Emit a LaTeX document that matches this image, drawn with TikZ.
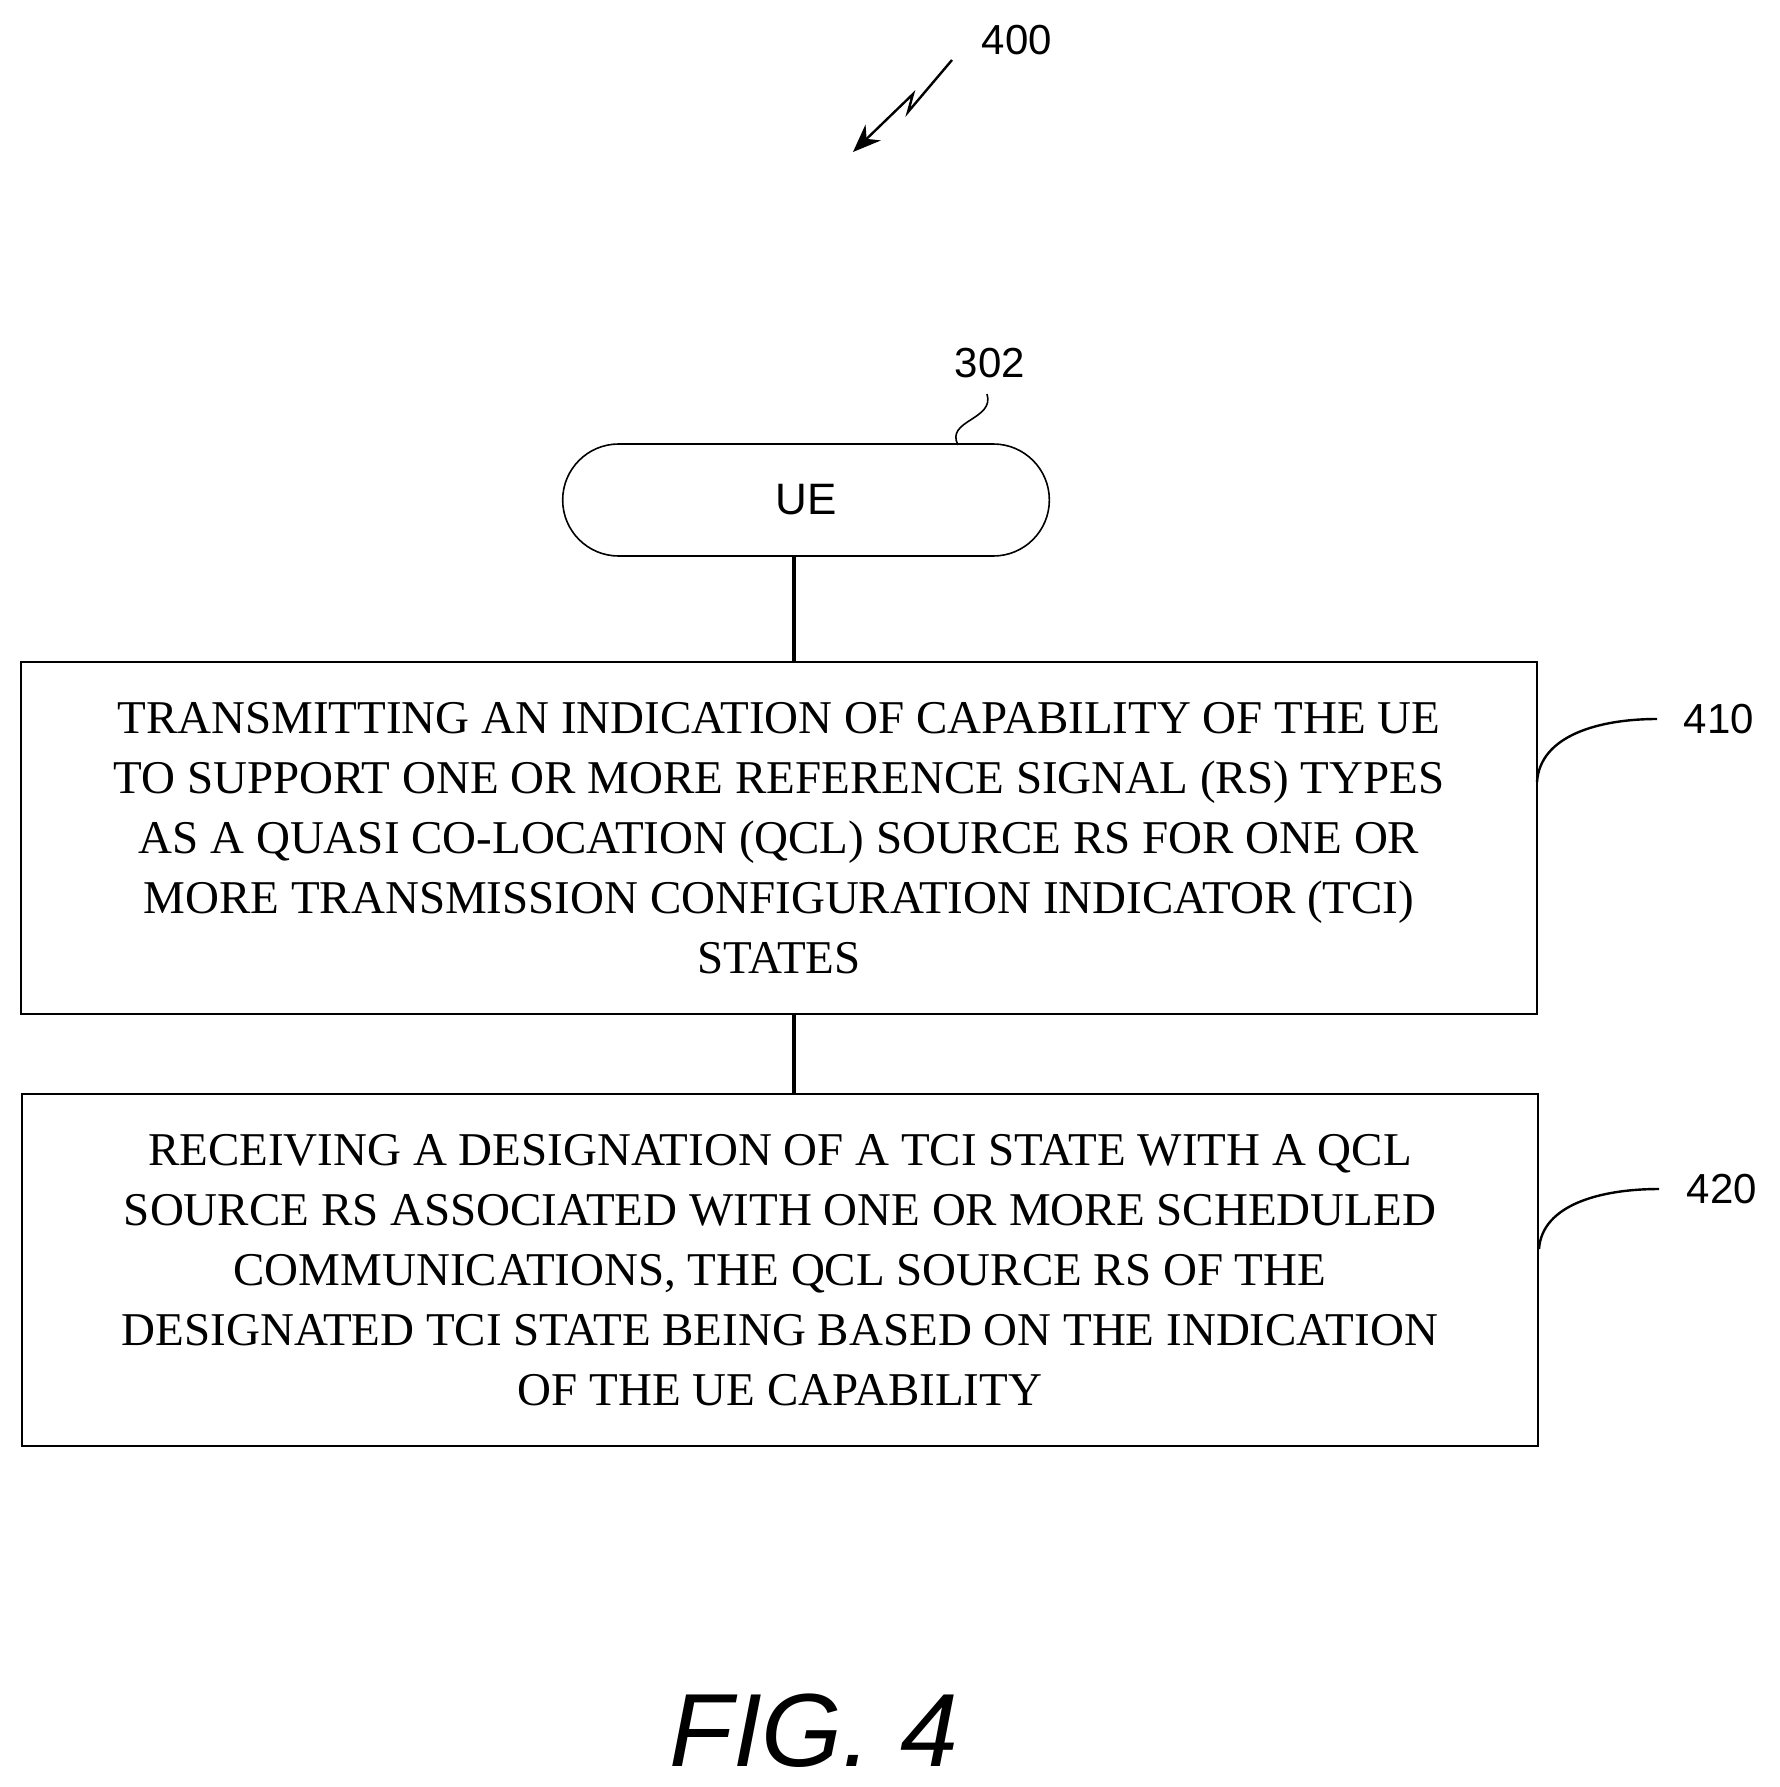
\documentclass[tikz,border=0pt]{standalone}
\usepackage{fontspec}
\setmainfont{Liberation Serif}
\newfontfamily\lab{Liberation Sans}
\usetikzlibrary{shapes.misc,arrows.meta}
\begin{document}
\begin{tikzpicture}[x=0.5pt,y=-0.5pt,
  box/.style={draw,line width=0.8pt,minimum width=758pt,minimum height=176pt,align=center,font=\fontsize{23.5}{30}\selectfont,inner sep=0pt},
  lbl/.style={font=\lab\fontsize{21}{24}\selectfont},
  ln/.style={line width=1.6pt}]
\useasboundingbox (0,0) rectangle (1780,1787);
\node[draw,rounded rectangle,line width=0.8pt,minimum width=250pt,minimum height=56pt,font=\lab\fontsize{22}{24}\selectfont] (ue) at (806,500) {UE};
\node[box] (b1) at (779,838) {TRANSMITTING AN INDICATION OF CAPABILITY OF THE UE\\TO SUPPORT ONE OR MORE REFERENCE SIGNAL (RS) TYPES\\AS A QUASI CO-LOCATION (QCL) SOURCE RS FOR ONE OR\\MORE TRANSMISSION CONFIGURATION INDICATOR (TCI)\\STATES};
\node[box] (b2) at (780,1270) {RECEIVING A DESIGNATION OF A TCI STATE WITH A QCL\\SOURCE RS ASSOCIATED WITH ONE OR MORE SCHEDULED\\COMMUNICATIONS, THE QCL SOURCE RS OF THE\\DESIGNATED TCI STATE BEING BASED ON THE INDICATION\\OF THE UE CAPABILITY};
\draw[ln] (ue.south -| 794,0) -- (b1.north -| 794,0);
\draw[ln] (b1.south -| 794,0) -- (b2.north -| 794,0);
\node[lbl] (l302) at (990,363) {302};
\coordinate (c302) at (958,445);
\draw[line width=0.8pt] (c302) .. controls (945,420) and (995,420) .. (987,394);
\node[lbl] (l410) at (1719,719) {410};
\coordinate (c410) at (1537,782);
\draw[line width=1.2pt] (c410) .. controls (1540,735) and (1600,719) .. (1657,719);
\node[lbl] (l420) at (1722,1189) {420};
\coordinate (c420) at (1539,1249);
\draw[line width=1.2pt] (c420) .. controls (1542,1205) and (1600,1189) .. (1659,1189);
\node[lbl] (l400) at (1017,40) {400};
\coordinate (a1) at (952,60);
\coordinate (a2) at (853,152);
\draw[line width=1.2pt,-{Stealth[length=14pt,width=11pt]}] (a1) -- (908,112) -- (913,94) -- (a2);
\node[font=\lab\itshape\fontsize{52}{56}\selectfont] (fig) at (814,1731) {FIG. 4};
\end{tikzpicture}
\end{document}
